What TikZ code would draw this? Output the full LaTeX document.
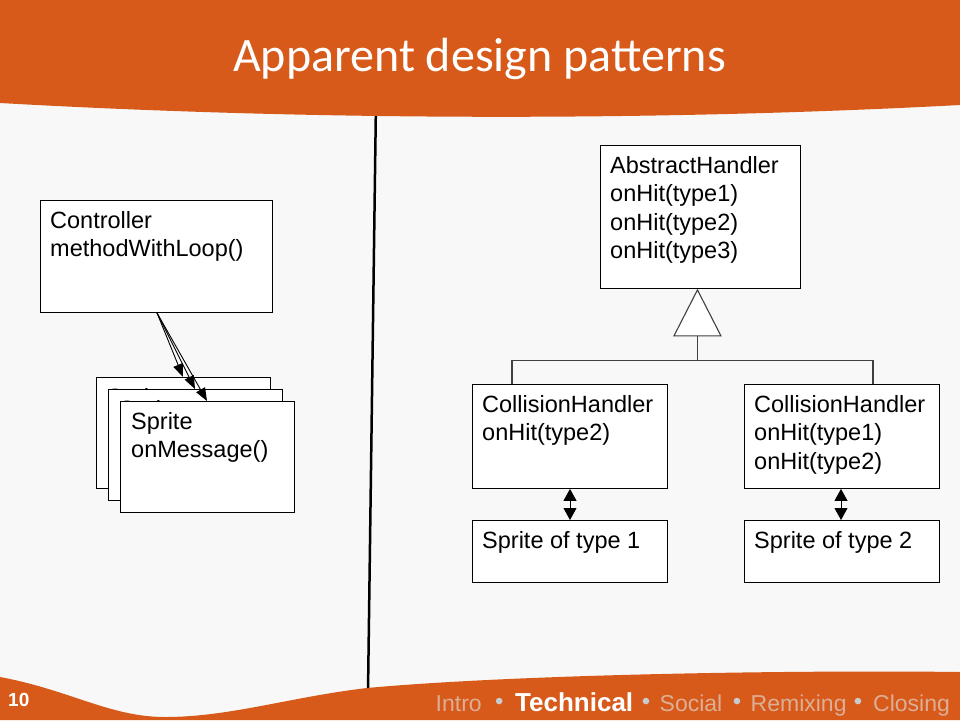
\documentclass[tikz,border=0pt]{standalone}
\usepackage{fontspec}
\setmainfont{Liberation Sans}
\newfontfamily\titlefont{Carlito}
\usetikzlibrary{arrows.meta,calc}
\definecolor{bgc}{HTML}{F8F8F8}
\definecolor{orng}{HTML}{D75A1A}
\definecolor{navtxt}{HTML}{DDAE96}
\definecolor{navdot}{HTML}{C8CCD0}
\definecolor{inhc}{HTML}{404040}
\tikzset{
  box/.style={draw=black, fill=white, line width=0.9pt, inner sep=0pt, anchor=north west},
  boxtxt/.style={font=\fontsize{23.5}{28.5}\selectfont, align=left, inner sep=0pt, anchor=north west},
  carr/.style={draw=black, line width=0.9pt, -{Triangle[length=13pt,width=10pt]}},
  darr/.style={draw=black, line width=0.8pt, {Triangle[length=12pt,width=13pt]}-{Triangle[length=12pt,width=13pt]}},
  inh/.style={draw=inhc, line width=1.1pt},
  navword/.style={font=\fontsize{23}{26}\selectfont, text=navtxt, inner sep=0pt, anchor=base west},
  navsel/.style={font=\fontsize{26}{30}\selectfont\bfseries, text=white, inner sep=0pt, anchor=base west},
  navbul/.style={font=\fontsize{24}{26}\selectfont, text=navdot, inner sep=0pt, anchor=base},
}
\begin{document}
\begin{tikzpicture}[x=1pt,y=-1pt]
\useasboundingbox (0,0) rectangle (960,720);
\fill[bgc] (0,0) rectangle (960,720);
% divider
\draw[line width=2.5pt] (376,100) -- (368,692);
% header
\fill[orng] (0,0) -- (960,0) -- (960,105) .. controls (640,122) and (300,120) .. (0,103) -- cycle;
\node[font=\titlefont\fontsize{48}{54}\selectfont, text=white, anchor=base, inner sep=0pt] (title) at (479.5,71.7) {Apparent design patterns};
% footer
\fill[orng] (0,677) .. controls (70,690) and (110,717) .. (165,717)
  .. controls (230,717) and (290,697) .. (367,688)
  .. controls (520,674) and (800,670) .. (960,672) -- (960,720) -- (0,720) -- cycle;
\node[font=\fontsize{19}{22}\selectfont\bfseries, text=white, anchor=base west, inner sep=0pt] (pg) at (8,706.5) {10};
\node[navword] (n1) at (435.5,711.7) {Intro};
\node[navbul] (b1) at (499.3,709.5) {•};
\node[navsel] (n2) at (515,711.7) {Technical};
\node[navbul] (b2) at (646,709.5) {•};
\node[navword] (n3) at (659.5,711.7) {Social};
\node[navbul] (b3) at (737,709.5) {•};
\node[navword] (n4) at (750.5,711.7) {Remixing};
\node[navbul] (b4) at (858,709.5) {•};
\node[navword] (n5) at (873,711.7) {Closing};
% left diagram
\node[box, minimum width=232pt, minimum height=112pt] (ctrl) at (40,200) {};
\node[boxtxt] (ctrlt) at ($(ctrl.north west)+(10,11)$) {Controller\\methodWithLoop()};
\node[box, minimum width=174pt, minimum height=111pt] (s1) at (96,377) {};
\node[boxtxt] (s1t) at ($(s1.north west)+(11,11)$) {Sprite\\onMessage()};
\node[box, minimum width=174pt, minimum height=111pt] (s2) at (108,389) {};
\node[boxtxt] (s2t) at ($(s2.north west)+(11,11)$) {Sprite\\onMessage()};
\node[box, minimum width=174pt, minimum height=111pt] (s3) at (120,401) {};
\node[boxtxt] (s3t) at ($(s3.north west)+(11,11)$) {Sprite\\onMessage()};
\coordinate (cs) at ($(ctrl.south west)+(117,0)$);
\draw[carr] (cs) -- ($(s1.north west)+(87,0)$);
\draw[carr] (cs) -- ($(s2.north west)+(87,0)$);
\draw[carr] (cs) -- ($(s3.north west)+(87,0)$);
% right diagram
\node[box, minimum width=200pt, minimum height=143pt] (ah) at (600,145) {};
\node[boxtxt] (aht) at ($(ah.north west)+(10,11)$) {AbstractHandler\\onHit(type1)\\onHit(type2)\\onHit(type3)};
\node[box, minimum width=195pt, minimum height=104pt] (ch1) at (472,384) {};
\node[boxtxt] (ch1t) at ($(ch1.north west)+(10,11)$) {CollisionHandler\\onHit(type2)};
\node[box, minimum width=195pt, minimum height=104pt] (ch2) at (744,384) {};
\node[boxtxt] (ch2t) at ($(ch2.north west)+(10,11)$) {CollisionHandler\\onHit(type1)\\onHit(type2)};
\node[box, minimum width=195pt, minimum height=62pt] (sp1) at (472,520) {};
\node[boxtxt] (sp1t) at ($(sp1.north west)+(10,11)$) {Sprite of type 1};
\node[box, minimum width=195pt, minimum height=62pt] (sp2) at (744,520) {};
\node[boxtxt] (sp2t) at ($(sp2.north west)+(10,11)$) {Sprite of type 2};
% inheritance
\coordinate (apex) at ($(ah.south)+(-3,1)$);
\coordinate (tb) at ($(apex)+(0,46)$);
\coordinate (hj) at ($(tb)+(0,25)$);
\draw[inh, fill=white] (apex) -- ($(tb)+(23.5,0)$) -- ($(tb)+(-23.5,0)$) -- cycle;
\draw[inh] (tb) -- (hj);
\draw[inh] ($(ch1.north west)+(40,0)$) |- (hj) -| ($(ch2.north west)+(129,0)$);
% associations
\draw[darr] ($(ch1.south west)+(98,0)$) -- ($(sp1.north west)+(98,0)$);
\draw[darr] ($(ch2.south west)+(97,0)$) -- ($(sp2.north west)+(97,0)$);
\end{tikzpicture}
\end{document}
